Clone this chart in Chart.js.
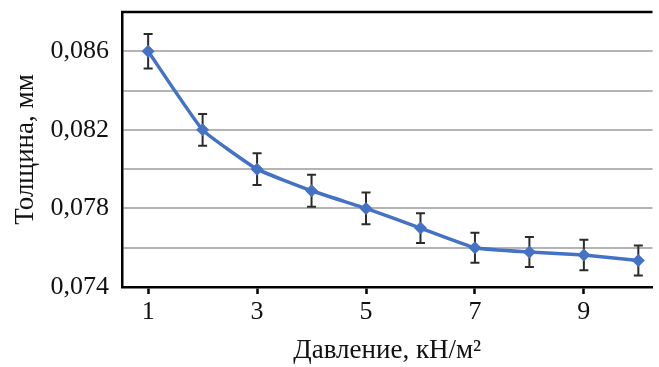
<!DOCTYPE html>
<html>
<head>
<meta charset="utf-8">
<script src="https://cdn.jsdelivr.net/npm/chart.js@4"></script>
<style>
  html, body { margin: 0; padding: 0; background: #fff; overflow: hidden; }
  #wrap { width: 659px; height: 367px; }
</style>
</head>
<body>
<div id="wrap"><canvas id="chart" width="659" height="367"></canvas></div>
<script>
// values
const pressure = [1, 2, 3, 4, 5, 6, 7, 8, 9, 10];
const thickness = [0.0860, 0.0820, 0.0800, 0.0789, 0.0780, 0.0770, 0.0760, 0.07578, 0.07563, 0.07535];
const errors = [0.00088, 0.00081, 0.00081, 0.00081, 0.00081, 0.00076, 0.00076, 0.00076, 0.00078, 0.00076];
const xTicks = [1, 3, 5, 7, 9];
const yTicks = [0.074, 0.076, 0.078, 0.080, 0.082, 0.084, 0.086, 0.088];
const yLabelled = [0.074, 0.078, 0.082, 0.086];

const serif = 'Liberation Serif';
const lineColor = '#4472c4';

// error bars drawn under the line
const errorBars = {
    id: 'errorBars',
    beforeDatasetsDraw(chart) {
        const ctx = chart.ctx;
        const x = chart.scales.x, y = chart.scales.y;
        ctx.save();
        ctx.strokeStyle = '#2b2b2b';
        ctx.lineWidth = 2;
        pressure.forEach((p, i) => {
            const px = x.getPixelForValue(p);
            const top = y.getPixelForValue(thickness[i] + errors[i]);
            const bot = y.getPixelForValue(thickness[i] - errors[i]);
            ctx.beginPath();
            ctx.moveTo(px, top); ctx.lineTo(px, bot);
            ctx.moveTo(px - 4.5, top); ctx.lineTo(px + 4.5, top);
            ctx.moveTo(px - 4.5, bot); ctx.lineTo(px + 4.5, bot);
            ctx.stroke();
        });
        ctx.restore();
    }
};

// top frame line of the plot box
const topFrame = {
    id: 'topFrame',
    afterDraw(chart) {
        const a = chart.chartArea;
        const ctx = chart.ctx;
        ctx.save();
        ctx.strokeStyle = '#000';
        ctx.lineWidth = 2.5;
        ctx.beginPath();
        ctx.moveTo(a.left - 1, a.top);
        ctx.lineTo(a.right, a.top);
        ctx.stroke();
        ctx.restore();
    }
};

const fmt = v => v.toFixed(3).replace('.', ',');

new Chart(document.getElementById('chart'), {
    type: 'line',
    data: {
        datasets: [{
            data: pressure.map((p, i) => ({ x: p, y: thickness[i] })),
            borderColor: lineColor,
            backgroundColor: lineColor,
            borderWidth: 3.5,
            tension: 0.12,
            pointStyle: 'rectRot',
            pointRadius: 6.5,
            pointBorderWidth: 0
        }]
    },
    options: {
        responsive: false,
        animation: false,
        layout: { padding: { top: 12, right: 0, left: 0, bottom: 0 } },
        plugins: {
            legend: { display: false },
            tooltip: { enabled: false }
        },
        scales: {
            x: {
                type: 'linear',
                min: 0.52,
                max: 10.26,
                afterBuildTicks: s => { s.ticks = xTicks.map(v => ({ value: v })); },
                afterFit: s => { s.height = 80; s.paddingLeft = 0; s.paddingRight = 0; },
                grid: {
                    display: true,
                    drawOnChartArea: false,
                    drawTicks: true,
                    tickLength: 7,
                    tickWidth: 2.5,
                    tickColor: '#000'
                },
                border: { display: true, color: '#000', width: 2.5 },
                ticks: {
                    color: '#111',
                    font: { family: serif, size: 26 },
                    padding: 3,
                    maxRotation: 0
                },
                title: {
                    display: true,
                    text: 'Давление, кН/м²',
                    color: '#111',
                    font: { family: serif, size: 27 },
                    padding: { top: 0, bottom: 0 }
                }
            },
            y: {
                min: 0.074,
                max: 0.088,
                afterBuildTicks: s => { s.ticks = yTicks.map(v => ({ value: v })); },
                afterFit: s => { s.width = 122; s.paddingTop = 0; s.paddingBottom = 0; },
                grid: {
                    color: ctx => ctx.tick && Math.abs(ctx.tick.value - 0.088) < 1e-6 ? 'rgba(0,0,0,0)' : '#b4b4b4',
                    lineWidth: 2,
                    drawTicks: false
                },
                border: { display: true, color: '#000', width: 2.5 },
                ticks: {
                    color: '#111',
                    font: { family: serif, size: 26 },
                    padding: 13,
                    callback: v => yLabelled.some(t => Math.abs(t - v) < 1e-6) ? fmt(v) : ''
                },
                title: {
                    display: true,
                    text: 'Толщина, мм',
                    color: '#111',
                    font: { family: serif, size: 27 },
                    padding: { top: 10, bottom: 0 }
                }
            }
        }
    },
    plugins: [errorBars, topFrame]
});
</script>
</body>
</html>
